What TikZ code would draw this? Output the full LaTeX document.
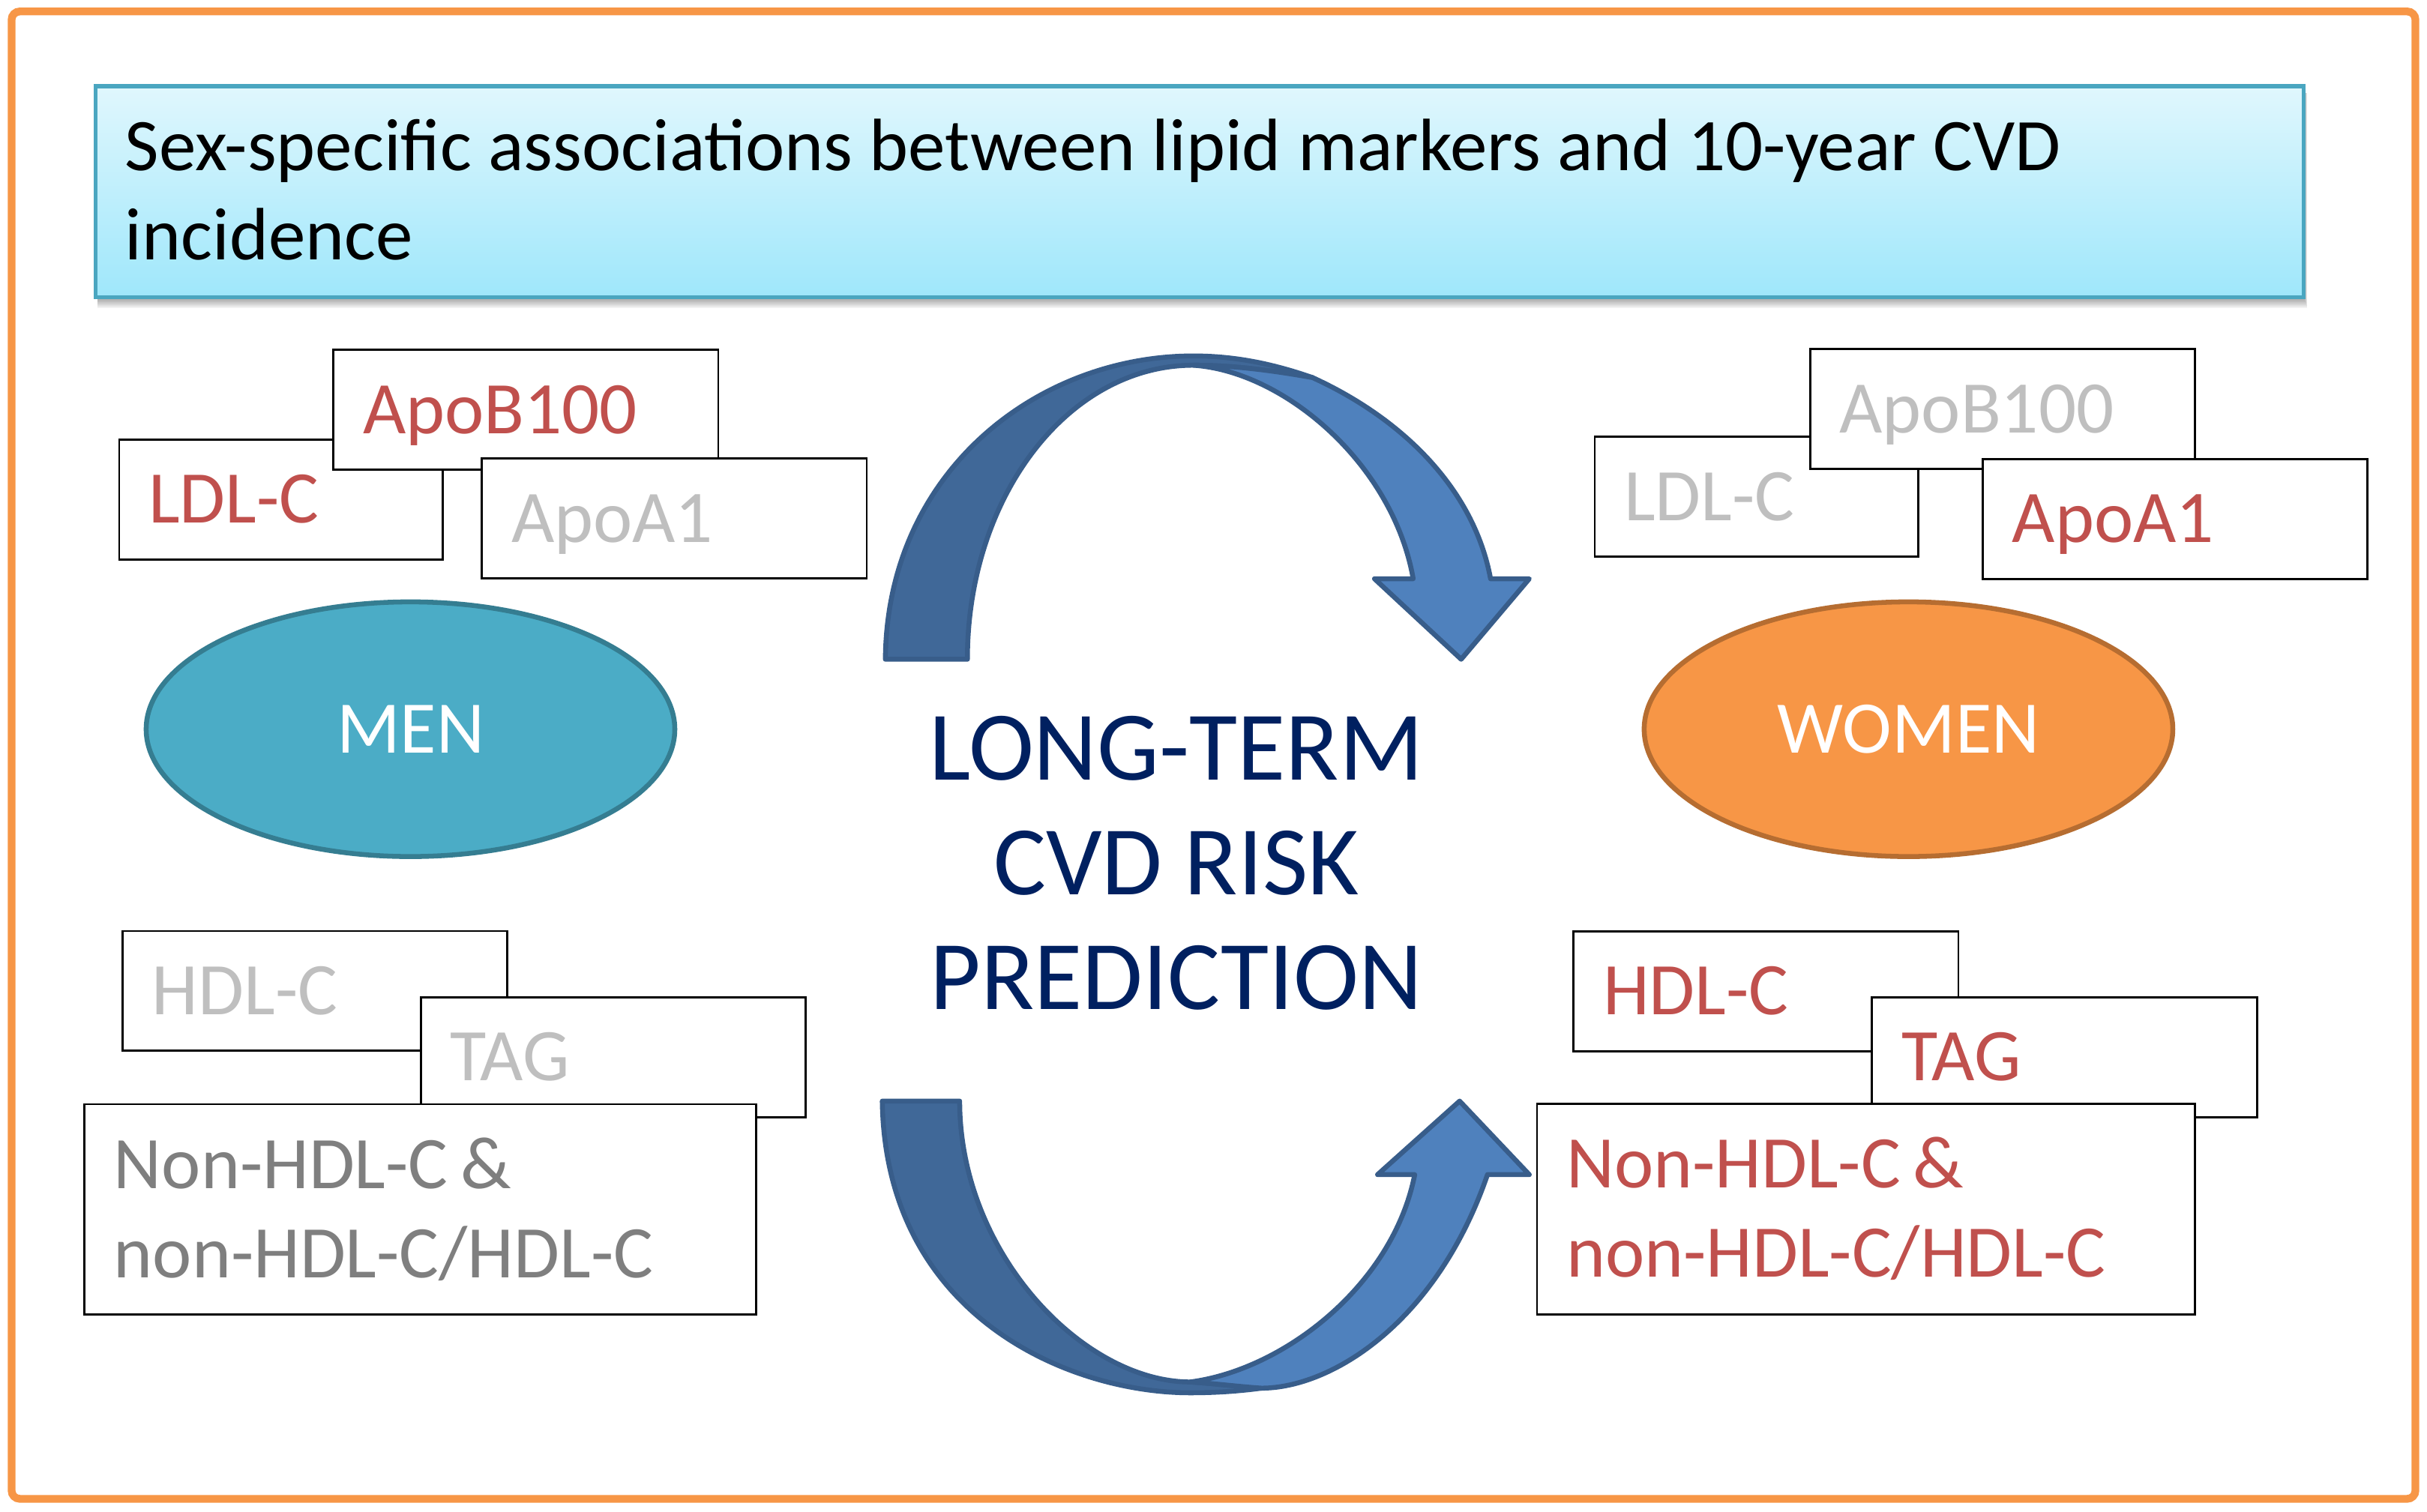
\documentclass[tikz,border=0pt]{standalone}
\usepackage{fontspec}
\setmainfont{Carlito}
\usetikzlibrary{shapes.geometric}
\definecolor{frameorange}{HTML}{F79646}
\definecolor{titletop}{HTML}{E0F7FD}
\definecolor{titlebot}{HTML}{9FE7FB}
\definecolor{titleedge}{HTML}{4AA6C0}
\definecolor{mkred}{HTML}{C0504D}
\definecolor{mkgrey}{HTML}{BFBFBF}
\definecolor{mkdark}{HTML}{7F7F7F}
\definecolor{menfill}{HTML}{4BACC6}
\definecolor{menedge}{HTML}{357D91}
\definecolor{womenfill}{HTML}{F79646}
\definecolor{womenedge}{HTML}{B66D31}
\definecolor{navytext}{HTML}{002060}
\definecolor{arrowdark}{HTML}{406898}
\definecolor{arrowlight}{HTML}{4F81BD}
\definecolor{arrowedge}{HTML}{385D8A}
\tikzset{
  mk/.style={draw=black, line width=0.8pt, fill=white, anchor=north west,
    inner xsep=0.38cm, inner ysep=0pt, outer sep=0pt, align=flush left,
    text height=20pt, text depth=2.6pt, minimum height=1.55cm,
    font=\fontsize{27.3}{32.8}\selectfont},
  smallw/.style={text width=4.212cm},
  ldlw/.style={text width=3.424cm},
  bigbox/.style={minimum height=2.72cm, text depth=35.4pt},
  titlebox/.style={anchor=north west, draw=titleedge, line width=1.4pt,
    top color=titletop, bottom color=titlebot, minimum height=2.73cm,
    text width=27.776cm, inner xsep=0.38cm, inner ysep=0pt, outer sep=0pt,
    align=flush left, text height=20pt, text depth=35.4pt,
    font=\fontsize{27.3}{32.8}\selectfont},
  sexnode/.style={ellipse, minimum width=6.832cm, minimum height=3.292cm,
    line width=1.8pt, text=white, inner sep=0pt,
    text height=20pt, text depth=2.6pt,
    font=\fontsize{27.3}{32.8}\selectfont},
  centertext/.style={align=flush center, text=navytext, inner sep=0pt,
    text height=110.4pt, text depth=2.7pt,
    font=\fontsize{36.2}{42.2}\selectfont},
  arrowpart/.style={draw=arrowedge, line width=1.8pt, line join=round}
}
\begin{document}
\begin{tikzpicture}[x=0.02cm, y=-0.02cm]
\useasboundingbox (0,0) rectangle (1568,977);
\fill[white] (0,0) rectangle (1568,977);
% outer frame
\draw[frameorange, line width=0.1cm, rounded corners=3pt] (7.5,7.4) rectangle (1560.5,968.5);
% title shadow
\foreach \k in {1,...,7} {
  \fill[black, opacity=0.055] (63,60) rectangle (1488.6+0.3*\k,192.2+\k);
}
\node[titlebox] (title) at (61.8,55.7)
  {Sex-specific associations between lipid markers and 10-year CVD\\incidence};
% men markers
\node[mk, ldlw, text=mkred] (mldl) at (77,284) {LDL-C};
\node[mk, smallw, text=mkred] (mapob) at (215.5,226) {ApoB100};
\node[mk, smallw, text=mkgrey] (mapoa) at (311.4,296.3) {ApoA1};
\node[mk, smallw, text=mkgrey] (mhdl) at (79.3,601.6) {HDL-C};
\node[mk, smallw, text=mkgrey] (mtag) at (271.8,644.3) {TAG};
\node[mk, bigbox, text width=7.92cm, text=mkdark] (mnon) at (54.6,713.5)
  {Non-HDL-C\,\&\\non-HDL-C/HDL-C};
% women markers
\node[mk, ldlw, text=mkgrey] (wldl) at (1030.3,282.2) {LDL-C};
\node[mk, smallw, text=mkgrey] (wapob) at (1169.5,225.7) {ApoB100};
\node[mk, smallw, text=mkred] (wapoa) at (1281,296.6) {ApoA1};
\node[mk, smallw, text=mkred] (whdl) at (1016.7,601.7) {HDL-C};
\node[mk, smallw, text=mkred] (wtag) at (1209.5,644.3) {TAG};
\node[mk, bigbox, text width=7.74cm, text=mkred] (wnon) at (993,713.3)
  {Non-HDL-C\,\&\\non-HDL-C/HDL-C};
% sexes
\node[sexnode, fill=menfill, draw=menedge] (men) at (265.2,471.2) {MEN};
\node[sexnode, fill=womenfill, draw=womenedge] (women) at (1233,471.2) {WOMEN};
% top curved arrow
\filldraw[arrowpart, fill=arrowdark]
  (572,426) .. controls (573,305) and (670,230) .. (771,230)
  .. controls (800,230) and (825,236) .. (848,244)
  .. controls (820,239) and (795,236) .. (771,236)
  .. controls (690,236) and (625,321) .. (625,426) -- cycle;
\filldraw[arrowpart, fill=arrowlight]
  (771,236) .. controls (795,236) and (820,239) .. (848,244)
  .. controls (905,270) and (952,315) .. (963,374)
  -- (988,374) -- (944,426) -- (888,374) -- (913,374)
  .. controls (900,300) and (830,240) .. (771,236) -- cycle;
% bottom curved arrow
\filldraw[arrowpart, fill=arrowdark]
  (570,711.5) .. controls (572,850) and (690,900) .. (769,900)
  .. controls (785,900) and (800,899) .. (815,897)
  .. controls (800,896) and (785,894) .. (769,893)
  .. controls (700,893) and (620,810) .. (620,711.5) -- cycle;
\filldraw[arrowpart, fill=arrowlight]
  (769,893) .. controls (785,894) and (800,896) .. (815,897)
  .. controls (860,897) and (928,855) .. (961,759)
  -- (988,759) -- (943,711.5) -- (890,759) -- (914,759)
  .. controls (900,830) and (830,885) .. (769,893) -- cycle;
% centre text
\node[centertext] (risk) at (760,557.5) {LONG-TERM\\CVD RISK\\PREDICTION};
\end{tikzpicture}
\end{document}
